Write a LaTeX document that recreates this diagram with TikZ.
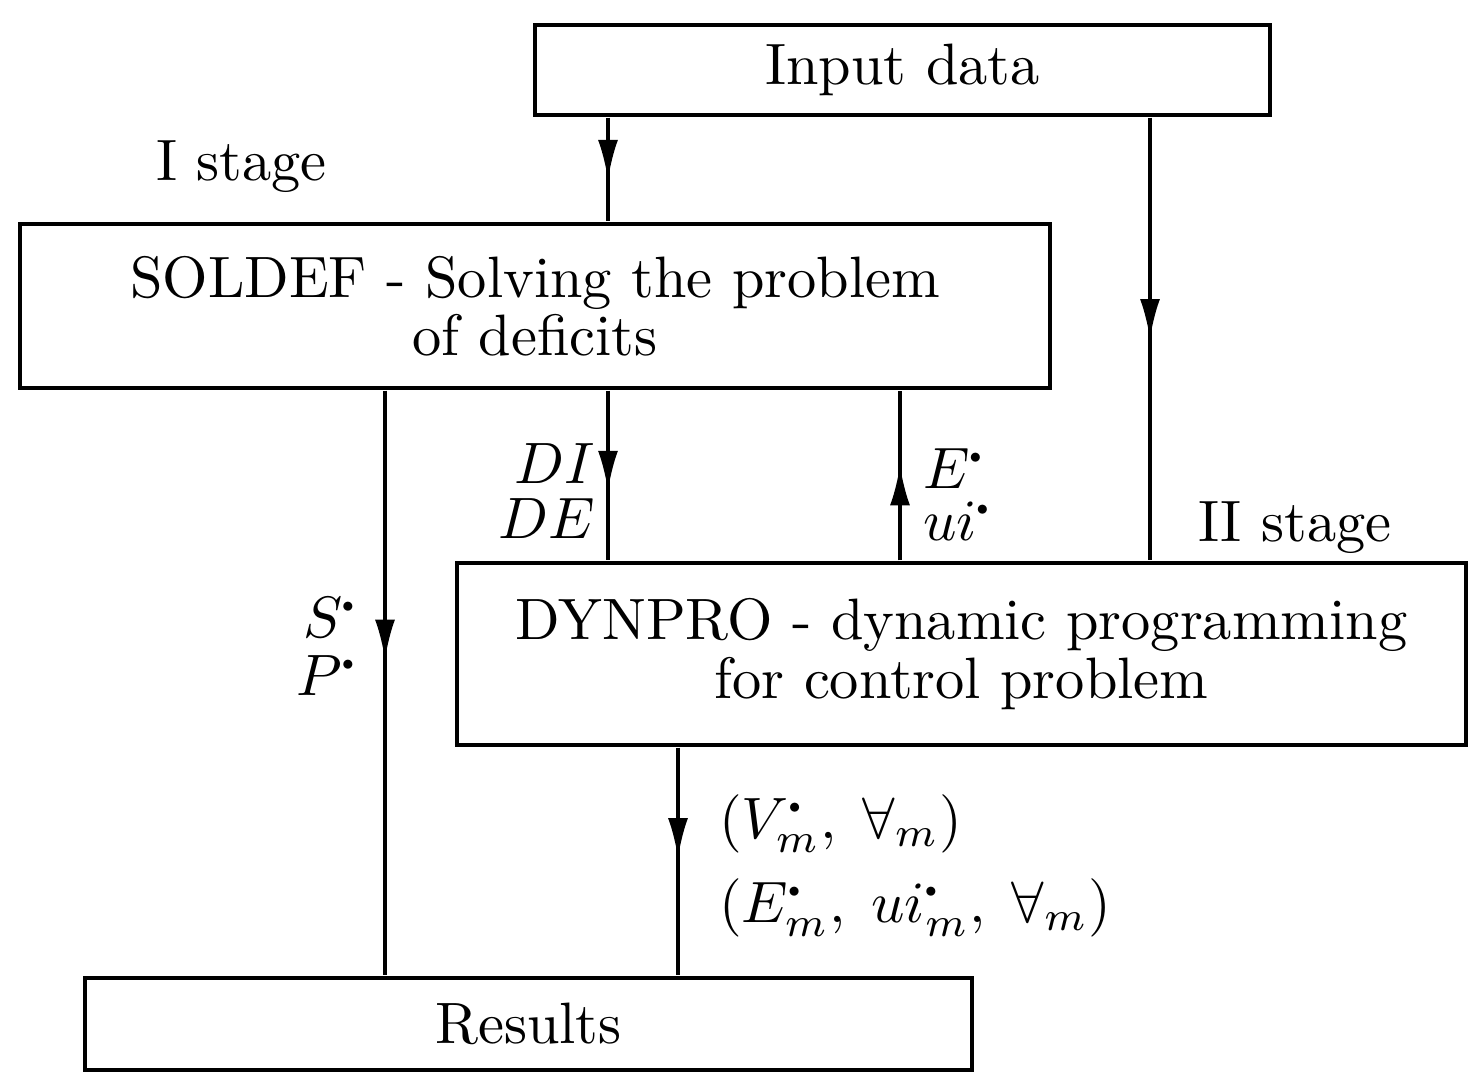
\documentclass[tikz,border=0pt]{standalone}
\usetikzlibrary{arrows.meta,decorations.markings}
\newcommand\sdot{{\raisebox{0.15ex}{\scalebox{0.4}{$\bullet$}}}}
\begin{document}
\begin{tikzpicture}[x=0.25pt,y=-0.25pt,
  every node/.style={font=\fontsize{10}{10}\selectfont,scale=1.46},
  box/.style={draw,line width=0.9pt,rectangle,inner sep=0pt,align=center},
  lbl/.style={inner sep=0pt},
  link/.style={line width=0.8pt},
  midarrow/.style={link,postaction={decorate},decoration={markings,
     mark=at position #1 with {\arrow{Latex[length=10pt,width=5pt]}}}}]
\useasboundingbox (0,0) rectangle (1468,1076);

\node[box,minimum width=735*0.25pt/1.46,minimum height=90*0.25pt/1.46] (input) at (902.5,70) {Input data};
\node[box,minimum width=1030*0.25pt/1.46,minimum height=164*0.25pt/1.46] (soldef) at (535,306)
  {SOLDEF - Solving the problem\\ of deficits};
\node[box,minimum width=1009*0.25pt/1.46,minimum height=182*0.25pt/1.46] (dynpro) at (961.5,654)
  {DYNPRO - dynamic programming\\ for control problem};
\node[box,minimum width=887*0.25pt/1.46,minimum height=92*0.25pt/1.46] (results) at (528.5,1024) {Results};

\coordinate (xa) at (608,0);
\coordinate (xb) at (1150,0);
\coordinate (xc) at (900,0);
\coordinate (xd) at (385,0);
\coordinate (xe) at (678,0);

\draw[midarrow=0.6] (input.south -| xa) -- (soldef.north -| xa);
\draw[midarrow=0.5] (input.south -| xb) -- (dynpro.north -| xb);
\draw[midarrow=0.59] (soldef.south -| xa) -- (dynpro.north -| xa);
\draw[midarrow=0.56] (dynpro.north -| xc) -- (soldef.south -| xc);
\draw[midarrow=0.46] (soldef.south -| xd) -- (results.north -| xd);
\draw[midarrow=0.485] (dynpro.south -| xe) -- (results.north -| xe);

\node[lbl,anchor=base west] (st1) at (155,180) {I stage};
\node[lbl,anchor=base west] (st2) at (1197,541) {II stage};
\node[lbl,anchor=base east] (di) at (596,483) {$DI$};
\node[lbl,anchor=base east] (de) at (596,538) {$DE$};
\node[lbl,anchor=base west] (es) at (922,488) {$E^{\sdot}$};
\node[lbl,anchor=base west] (ui) at (922,540) {$ui^{\sdot}$};
\node[lbl,anchor=base east] (ss) at (358,637) {$S^{\sdot}$};
\node[lbl,anchor=base east] (ps) at (358,695) {$P^{\sdot}$};
\node[lbl,anchor=base west] (vm) at (718,838) {$(V^{\sdot}_m,\; \forall_m)$};
\node[lbl,anchor=base west] (em) at (718,922) {$(E^{\sdot}_m,\; ui^{\sdot}_m,\; \forall_m)$};
\end{tikzpicture}
\end{document}
